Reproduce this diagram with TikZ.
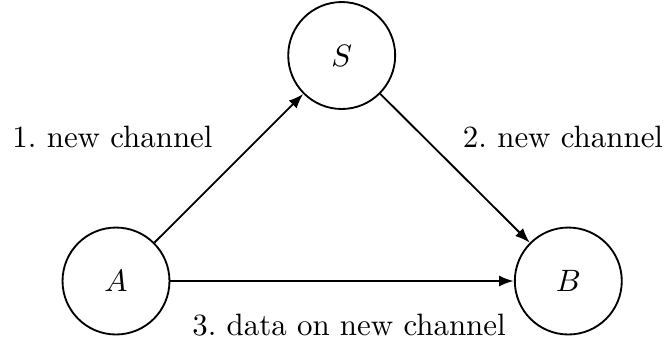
\documentclass[tikz,border=0pt]{standalone}
\usetikzlibrary{arrows.meta}
\begin{document}
\frenchspacing
\begin{tikzpicture}[x=0.3235pt,y=-0.3235pt,
  state/.style={circle,draw,line width=0.6pt,inner sep=0pt,minimum size=34.6pt},
  conn/.style={line width=0.6pt,-{Latex[length=4.8pt,width=3.6pt]}},
  lbl/.style={anchor=base,inner sep=0pt}]
\useasboundingbox (0,0) rectangle (664,343);
\node[state] (A) at (116,281) {$A$};
\node[state] (S) at (341.7,55.5) {$S$};
\node[state] (B) at (568.3,281) {$B$};
\draw[conn] (A) -- (S);
\draw[conn] (S) -- (B);
\draw[conn,line width=0.8pt] (A) -- (B);
\node[lbl] (l1) at (112.5,147.5) {1. new channel};
\node[lbl] (l2) at (563,147.5) {2. new channel};
\node[lbl] (l3) at (349,335) {3. data on new channel};
\end{tikzpicture}
\end{document}
